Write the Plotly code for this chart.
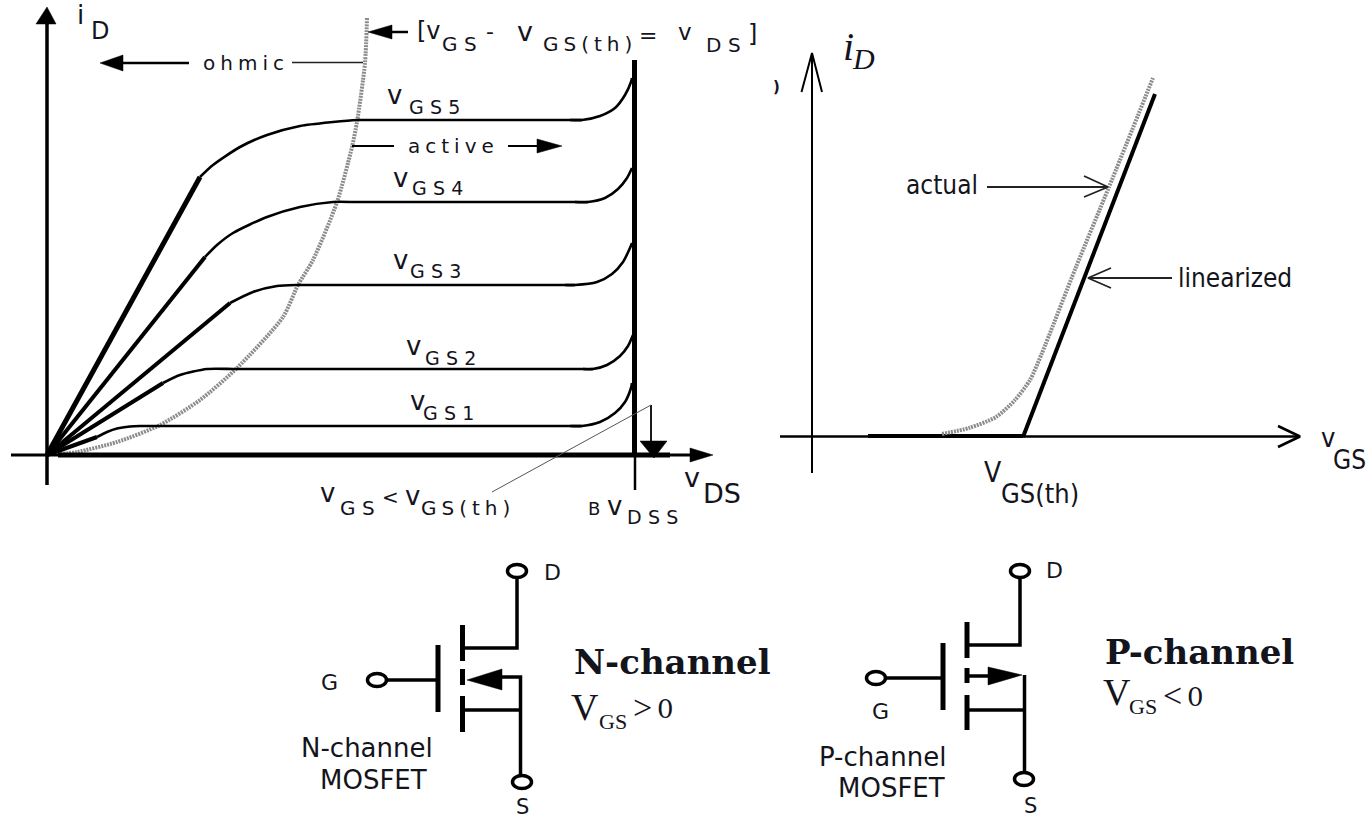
import plotly.graph_objects as go

# ---------- left plot: output characteristic (canvas units, y grows downward) ----------
ids_axis_x = [47, 47]
ids_axis_y = [485, 20]
ids_head_x = [47, 36, 56]
ids_head_y = [7, 24, 24]
vds_axis_x = [11, 695]
vds_axis_y = [455, 455]
vds_thick_x = [58, 670]
vds_thick_y = [455, 455]
vds_head_x = [713, 690, 690]
vds_head_y = [455, 448, 462]
bv_x = [634.5, 634.5]
bv_y = [60, 456]
bv_tick_x = [635, 635]
bv_tick_y = [456, 490]

boundary_x = [367, 365, 357, 352, 337, 313, 298, 283, 237, 200, 160, 117, 77, 60]
boundary_y = [18, 63, 122, 147, 202, 260, 285, 317, 368, 400, 425, 442, 452, 454]

vgs5_lin_x = [47, 200]
vgs5_lin_y = [455, 177]
vgs5_knee_x = [200, 213, 240, 267, 300, 333, 357, 370]
vgs5_knee_y = [177, 165, 147, 135, 126, 122, 120, 120]
vgs5_flat_x = [370, 582]
vgs5_flat_y = [120, 120]
vgs5_up_x = [570, 582, 600, 615, 625, 631, 632]
vgs5_up_y = [120, 120, 116, 108, 95, 82, 78]

vgs4_lin_x = [47, 205]
vgs4_lin_y = [455, 257]
vgs4_knee_x = [205, 217, 233, 267, 300, 333, 350]
vgs4_knee_y = [257, 245, 233, 217, 207, 202, 202]
vgs4_flat_x = [350, 588]
vgs4_flat_y = [202, 202]
vgs4_up_x = [575, 588, 605, 618, 627, 632]
vgs4_up_y = [202, 202, 198, 189, 178, 168]

vgs3_lin_x = [47, 230]
vgs3_lin_y = [455, 303]
vgs3_knee_x = [230, 253, 277, 297, 310]
vgs3_knee_y = [303, 292, 286, 285, 285]
vgs3_flat_x = [310, 575]
vgs3_flat_y = [285, 285]
vgs3_up_x = [565, 575, 597, 612, 623, 630, 632]
vgs3_up_y = [285, 285, 282, 274, 262, 248, 243]

vgs2_lin_x = [47, 163]
vgs2_lin_y = [455, 383]
vgs2_knee_x = [163, 180, 207, 233, 245]
vgs2_knee_y = [383, 375, 369, 369, 369]
vgs2_flat_x = [245, 593]
vgs2_flat_y = [369, 369]
vgs2_up_x = [583, 593, 607, 620, 628, 633]
vgs2_up_y = [369, 369, 365, 356, 346, 335]

vgs1_lin_x = [47, 97]
vgs1_lin_y = [455, 437]
vgs1_knee_x = [97, 107, 117, 130, 140, 155]
vgs1_knee_y = [437, 432, 428.5, 426.5, 426, 426]
vgs1_flat_x = [155, 582]
vgs1_flat_y = [426, 426]
vgs1_up_x = [570, 582, 600, 615, 625, 631, 632]
vgs1_up_y = [426, 426, 422, 413, 402, 388, 383]

ohmic_shaft_x = [120, 189]
ohmic_shaft_y = [63, 63]
ohmic_head_x = [100, 123, 123]
ohmic_head_y = [63, 55, 71]
ohmic_lead_x = [292, 363]
ohmic_lead_y = [62.5, 62.5]
bound_shaft_x = [390, 408]
bound_shaft_y = [32, 32]
bound_head_x = [368, 392, 392]
bound_head_y = [32, 25, 39]
active_left_x = [352, 394]
active_left_y = [146, 146]
active_right_x = [508, 540]
active_right_y = [146, 146]
active_head_x = [562, 537, 537]
active_head_y = [146, 139, 153]
cut_x = [651, 651]
cut_y = [405, 445]
cut_head_x = [654, 640, 667]
cut_head_y = [458, 441, 441]
cut_lead_x = [651, 492]
cut_lead_y = [405, 492]

# ---------- right plot: transfer characteristic ----------
id_axis_x = [812, 812]
id_axis_y = [473, 53]
id_barb_x = [801.5, 812, 822]
id_barb_y = [92, 53, 92]
vgs_axis_x = [780, 1298]
vgs_axis_y = [436.5, 436.5]
vgs_barb_x = [1278, 1300, 1278]
vgs_barb_y = [426, 436.5, 447]
off_x = [868, 1023]
off_y = [436, 436]
linear_x = [1023, 1155]
linear_y = [437, 94]
actual_x = [942, 969, 996, 1015, 1030, 1042, 1076, 1109, 1153]
actual_y = [434, 428, 417, 400, 380, 353, 267, 187, 78]
actual_arrow_x = [987, 1108]
actual_arrow_y = [187, 187]
actual_barb_x = [1084, 1108, 1084]
actual_barb_y = [176, 187, 197]
linear_arrow_x = [1172, 1088]
linear_arrow_y = [278, 278]
linear_barb_x = [1111, 1088, 1111]
linear_barb_y = [268, 278, 288]

# ---------- MOSFET symbols ----------
n_drain_x = [517, 517, 465]
n_drain_y = [577, 648, 648]
n_bars_x = [462.5, 462.5, None, 462.5, 462.5, None, 462.5, 462.5]
n_bars_y = [625, 661, None, 669, 685, None, 696, 732]
n_gate_x = [438, 438]
n_gate_y = [645, 712]
n_lead_x = [386, 437]
n_lead_y = [680, 680]
n_source_x = [500, 520.5, 520.5]
n_source_y = [677, 677, 775]
n_low_x = [465, 520]
n_low_y = [710, 710]
n_head_x = [467, 502, 502]
n_head_y = [680, 669, 690]
n_term_x = [517, 377, 522]
n_term_y = [571, 680, 782]

p_drain_x = [1020, 1020, 968]
p_drain_y = [578, 645, 645]
p_bars_x = [967, 967, None, 967, 967, None, 967, 967]
p_bars_y = [622, 658, None, 668, 683, None, 695, 730]
p_gate_x = [943, 943]
p_gate_y = [643, 710]
p_lead_x = [886, 942]
p_lead_y = [678, 678]
p_shaft_x = [968, 990]
p_shaft_y = [676, 676]
p_source_x = [1024.5, 1024.5]
p_source_y = [675, 772]
p_low_x = [968, 1024]
p_low_y = [710, 710]
p_head_x = [1022, 988, 988]
p_head_y = [675, 667, 685]
p_term_x = [1020, 876, 1024]
p_term_y = [571, 678, 779]

S3 = "\u2004"
S4 = "\u2005"
SANS = "DejaVu Sans"
SERIF = "DejaVu Serif"
TIMES = "Liberation Serif"
COND = "DejaVu Sans Condensed, Liberation Sans Narrow"
INK = "#14141c"
GS = "G" + S3 + "S"
DS = "D" + S3 + "S"
GSTH = S4.join("GS(th)")

# text, x, y, size, family, bold, italic
labels = [
    ("i", 80, 15, 26, SANS, 0, 0), ("D", 100, 31, 24, SANS, 0, 0),
    (S4.join("ohmic"), 243, 63, 20, SANS, 0, 0),
    ("[v", 429, 31, 24, SANS, 0, 0), (GS, 459, 44, 20, SANS, 0, 0),
    ("-", 490, 31, 22, SANS, 0, 0), ("v", 525, 31, 27, SANS, 0, 0),
    (GSTH, 587, 44, 20, SANS, 0, 0),
    ("=", 648, 35, 22, SANS, 0, 0), ("v", 685, 32, 23, SANS, 0, 0),
    (DS, 723, 45, 20, SANS, 0, 0), ("]", 752, 34, 24, SANS, 0, 0),
    ("v", 394, 95, 26, SANS, 0, 0), (S3.join("GS5"), 434, 107, 19, SANS, 0, 0),
    (S4.join("active"), 451, 146, 20, SANS, 0, 0),
    ("v", 400, 178, 26, SANS, 0, 0), (S3.join("GS4"), 437, 188, 19, SANS, 0, 0),
    ("v", 400, 260, 26, SANS, 0, 0), (S3.join("GS3"), 435, 271, 19, SANS, 0, 0),
    ("v", 413, 346, 26, SANS, 0, 0), (S3.join("GS2"), 450, 358, 19, SANS, 0, 0),
    ("v", 417, 401, 26, SANS, 0, 0), (S3.join("GS1"), 448, 413, 19, SANS, 0, 0),
    ("v", 327, 493, 26, SANS, 0, 0), (GS, 357, 508, 20, SANS, 0, 0),
    ("<", 390, 497, 20, SANS, 0, 0), ("v", 412, 496, 26, SANS, 0, 0),
    (GSTH, 465, 508, 20, SANS, 0, 0),
    ("B", 594, 508, 18, SANS, 0, 0), ("v", 614, 506, 26, SANS, 0, 0),
    (S3.join("DSS"), 652, 517, 19, SANS, 0, 0),
    ("v", 692, 477, 27, SANS, 0, 0), ("DS", 722, 493, 27, SANS, 0, 0),
    (")", 776, 87, 15, SANS, 1, 0),
    ("i", 848, 46, 40, TIMES, 0, 1), ("D", 863, 58, 30, TIMES, 0, 1),
    ("actual", 942, 185, 26, COND, 0, 0), ("linearized", 1235, 278, 26, COND, 0, 0),
    ("v", 1328, 437, 27, COND, 0, 0), ("GS", 1349, 460, 26, COND, 0, 0),
    ("V", 993, 472, 28, COND, 0, 0), ("GS(th)", 1040, 493, 27, COND, 0, 0),
    ("G", 329, 682, 22, SANS, 0, 0), ("D", 552, 572, 22, SANS, 0, 0), ("S", 522, 807, 21, SANS, 0, 0),
    ("N-channel", 367, 748, 26, SANS, 0, 0), ("MOSFET", 373, 780, 26, SANS, 0, 0),
    ("N-channel", 672, 662, 34, SERIF, 1, 0),
    ("V", 585, 707, 38, TIMES, 0, 0), ("GS", 613, 721, 22, TIMES, 0, 0),
    (">", 642, 707, 34, TIMES, 0, 0), ("0", 665, 709, 26, SERIF, 0, 0),
    ("G", 880, 711, 22, SANS, 0, 0), ("D", 1054, 570, 22, SANS, 0, 0), ("S", 1030, 806, 21, SANS, 0, 0),
    ("P-channel", 882, 757, 26, SANS, 0, 0), ("MOSFET", 891, 788, 26, SANS, 0, 0),
    ("P-channel", 1199, 652, 34, SERIF, 1, 0),
    ("V", 1117, 692, 38, TIMES, 0, 0), ("GS", 1143, 706, 22, TIMES, 0, 0),
    ("<", 1172, 695, 34, TIMES, 0, 0), ("0", 1195, 697, 26, SERIF, 0, 0),
]

fig = go.Figure()


def line(x, y, w, color="#000000", shape="linear", dash=None):
    fig.add_trace(go.Scatter(x=x, y=y, mode="lines", hoverinfo="skip",
                             line=dict(width=w, color=color, shape=shape, dash=dash, smoothing=0.7)))


def head(x, y, color="#000000"):
    fig.add_trace(go.Scatter(x=x + x[:1], y=y + y[:1], mode="lines", fill="toself", fillcolor=color,
                             hoverinfo="skip", line=dict(width=0.5, color=color)))


# left plot
line(ids_axis_x, ids_axis_y, 3.5)
head(ids_head_x, ids_head_y)
line(boundary_x, boundary_y, 4, "#8c8c8c", "spline", "2px,1px")
line(vds_axis_x, vds_axis_y, 3)
line(vds_thick_x, vds_thick_y, 5)
head(vds_head_x, vds_head_y)
line(bv_x, bv_y, 5)
line(bv_tick_x, bv_tick_y, 2.5)
for lx, ly, w in [(vgs5_lin_x, vgs5_lin_y, 5), (vgs4_lin_x, vgs4_lin_y, 4),
                  (vgs3_lin_x, vgs3_lin_y, 4), (vgs2_lin_x, vgs2_lin_y, 4),
                  (vgs1_lin_x, vgs1_lin_y, 4)]:
    line(lx, ly, w)
for cx, cy in [(vgs5_knee_x, vgs5_knee_y), (vgs4_knee_x, vgs4_knee_y), (vgs3_knee_x, vgs3_knee_y),
               (vgs2_knee_x, vgs2_knee_y), (vgs1_knee_x, vgs1_knee_y),
               (vgs5_up_x, vgs5_up_y), (vgs4_up_x, vgs4_up_y), (vgs3_up_x, vgs3_up_y),
               (vgs2_up_x, vgs2_up_y), (vgs1_up_x, vgs1_up_y)]:
    line(cx, cy, 2.6, shape="spline")
for cx, cy in [(vgs5_flat_x, vgs5_flat_y), (vgs4_flat_x, vgs4_flat_y), (vgs3_flat_x, vgs3_flat_y),
               (vgs2_flat_x, vgs2_flat_y), (vgs1_flat_x, vgs1_flat_y)]:
    line(cx, cy, 2.6)
line(ohmic_shaft_x, ohmic_shaft_y, 2.5)
head(ohmic_head_x, ohmic_head_y)
line(ohmic_lead_x, ohmic_lead_y, 1.3, "#222222")
line(bound_shaft_x, bound_shaft_y, 2.5)
head(bound_head_x, bound_head_y)
line(active_left_x, active_left_y, 2)
line(active_right_x, active_right_y, 2)
head(active_head_x, active_head_y)
line(cut_x, cut_y, 1.8)
head(cut_head_x, cut_head_y)
line(cut_lead_x, cut_lead_y, 1, "#555555")

# right plot
line(id_axis_x, id_axis_y, 2)
line(id_barb_x, id_barb_y, 2)
line(vgs_axis_x, vgs_axis_y, 2.5)
line(vgs_barb_x, vgs_barb_y, 2.5)
line(off_x, off_y, 4)
line(actual_x, actual_y, 4, "#8c8c8c", "spline", "2px,1px")
line(linear_x, linear_y, 4)
line(actual_arrow_x, actual_arrow_y, 1.8, "#222222")
line(actual_barb_x, actual_barb_y, 1.8, "#222222")
line(linear_arrow_x, linear_arrow_y, 1.8, "#222222")
line(linear_barb_x, linear_barb_y, 1.8, "#222222")

# N-channel symbol
line(n_drain_x, n_drain_y, 3.5)
line(n_bars_x, n_bars_y, 5)
line(n_gate_x, n_gate_y, 5)
line(n_lead_x, n_lead_y, 3.5)
line(n_source_x, n_source_y, 3.5)
line(n_low_x, n_low_y, 3.5)
head(n_head_x, n_head_y)

# P-channel symbol
line(p_drain_x, p_drain_y, 3.5)
line(p_bars_x, p_bars_y, 5)
line(p_gate_x, p_gate_y, 5)
line(p_lead_x, p_lead_y, 3.5)
line(p_shaft_x, p_shaft_y, 3.5)
line(p_source_x, p_source_y, 3.5)
line(p_low_x, p_low_y, 3.5)
head(p_head_x, p_head_y)

# oval terminals
for tx, ty in [(n_term_x, n_term_y), (p_term_x, p_term_y)]:
    for cx, cy in zip(tx, ty):
        fig.add_shape(type="circle", xref="x", yref="y", layer="above",
                      x0=cx - 9.5, x1=cx + 9.5, y0=cy - 6.5, y1=cy + 6.5,
                      fillcolor="#ffffff", line=dict(width=3.5, color="#000000"))

for text, x, y, size, family, bold, italic in labels:
    fig.add_annotation(x=x, y=y, text=text, showarrow=False, xanchor="center", yanchor="middle",
                       font=dict(size=size, family=family, color=INK,
                                 weight="bold" if bold else "normal",
                                 style="italic" if italic else "normal"))

fig.update_layout(width=1369, height=822, margin=dict(l=0, r=0, t=0, b=0), showlegend=False,
                  paper_bgcolor="#ffffff", plot_bgcolor="#ffffff",
                  xaxis=dict(range=[0, 1369], visible=False, fixedrange=True),
                  yaxis=dict(range=[822, 0], visible=False, fixedrange=True))

fig.write_html("out.html", config={"displayModeBar": False},
               post_script="document.body.style.margin='0';document.documentElement.style.overflow='hidden';")
